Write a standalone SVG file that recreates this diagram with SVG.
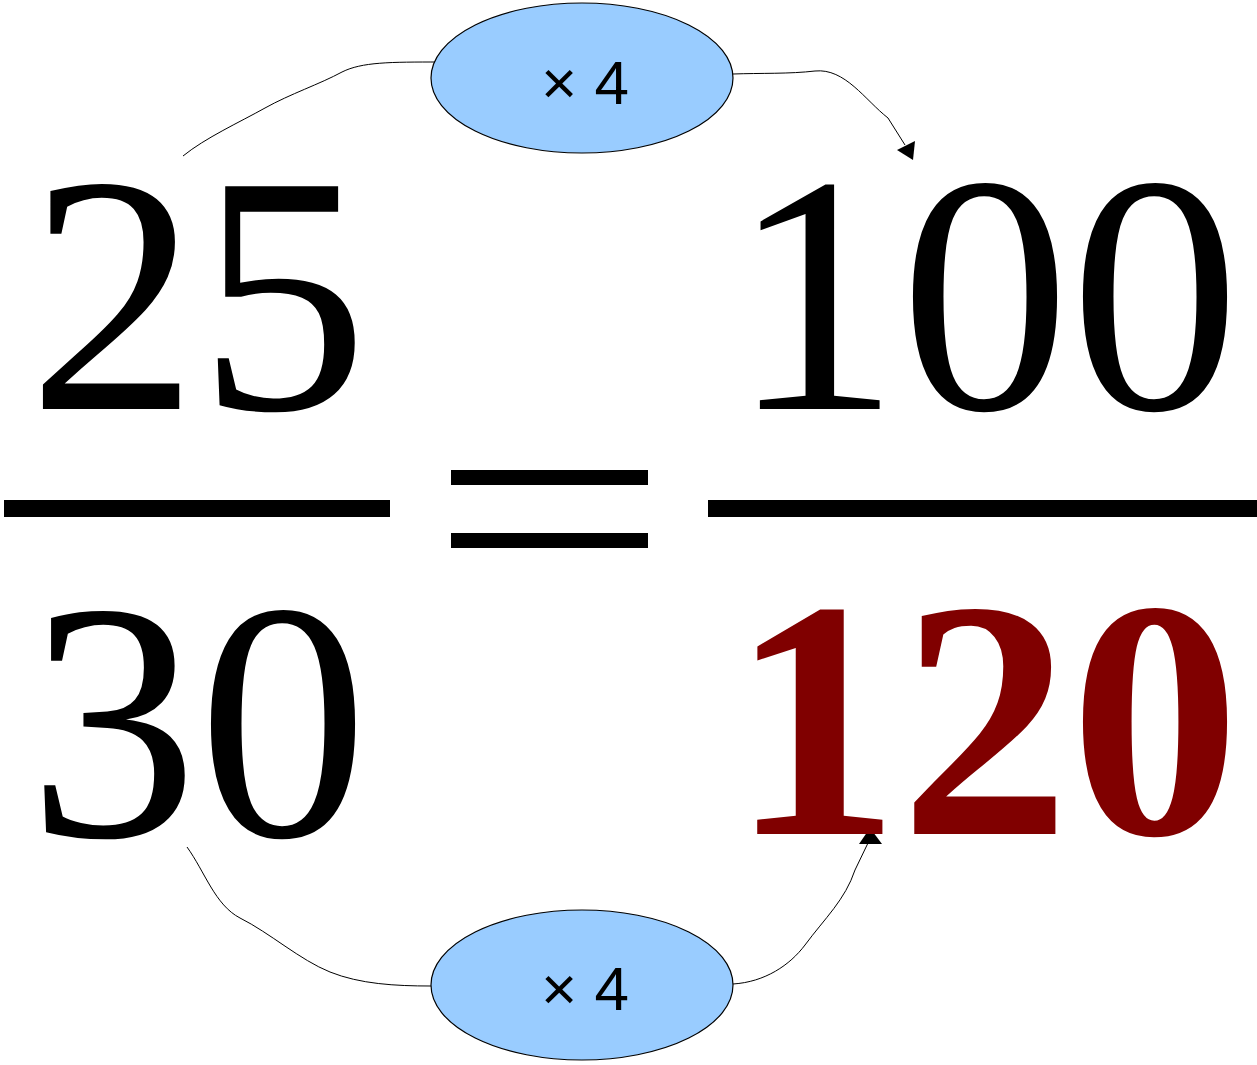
<svg xmlns="http://www.w3.org/2000/svg" width="1257" height="1065" viewBox="0 0 1257 1065">
<style>
.num{font-size:340px;fill:#000}
.bold{font-weight:bold;fill:#800000}
.op{font-size:62px;fill:#000;text-anchor:middle}
.ell{fill:#99ccff;stroke:#000;stroke-width:1.2}
.con{fill:none;stroke:#000;stroke-width:1}
.head{fill:#000}
.bar{fill:#000}
</style>
<g id="connectors">
<path class="con" d="M183,156 C205,138 240,122 265,108 C290,94 320,84 342,72 C362,62 390,62 440,62"/>
<path class="con" d="M733,74 C760,73 790,74 815,71 C845,68 865,100 888,118 L905,145"/>
<polygon class="head" points="913,160 897,150 915,141"/>
<path class="con" d="M187,847 C205,872 215,905 240,918 C270,933 300,960 330,972 C360,984 395,986 431,986"/>
<path class="con" d="M733,984 C765,982 790,965 805,945 C825,918 845,900 855,870 L868,843"/>
<polygon class="head" points="870,828 859,844 882,844"/>
</g>
<g id="node-top">
<ellipse class="ell" cx="582" cy="78" rx="151" ry="75"/>
<text class="op" font-family="Liberation Sans, Arimo, Arial, Nimbus Sans, sans-serif" x="585" y="104">× 4</text>
</g>
<g id="node-bottom">
<ellipse class="ell" cx="582" cy="985" rx="151" ry="75"/>
<text class="op" font-family="Liberation Sans, Arimo, Arial, Nimbus Sans, sans-serif" x="585" y="1010">× 4</text>
</g>
<g id="fraction-left" font-family="Liberation Serif, Tinos, Times New Roman, Nimbus Roman, FreeSerif, serif">
<text class="num" x="28" y="409">25</text>
<rect class="bar" x="4" y="500" width="386" height="17"/>
<text class="num" x="28" y="836">30</text>
</g>
<g id="equals">
<rect class="bar" x="451" y="470" width="197" height="15"/>
<rect class="bar" x="451" y="533" width="197" height="15"/>
</g>
<g id="fraction-right" font-family="Liberation Serif, Tinos, Times New Roman, Nimbus Roman, FreeSerif, serif">
<text class="num" x="730" y="409">100</text>
<rect class="bar" x="708" y="500" width="549" height="17"/>
<text class="num bold" x="730" y="834">120</text>
</g>
</svg>
